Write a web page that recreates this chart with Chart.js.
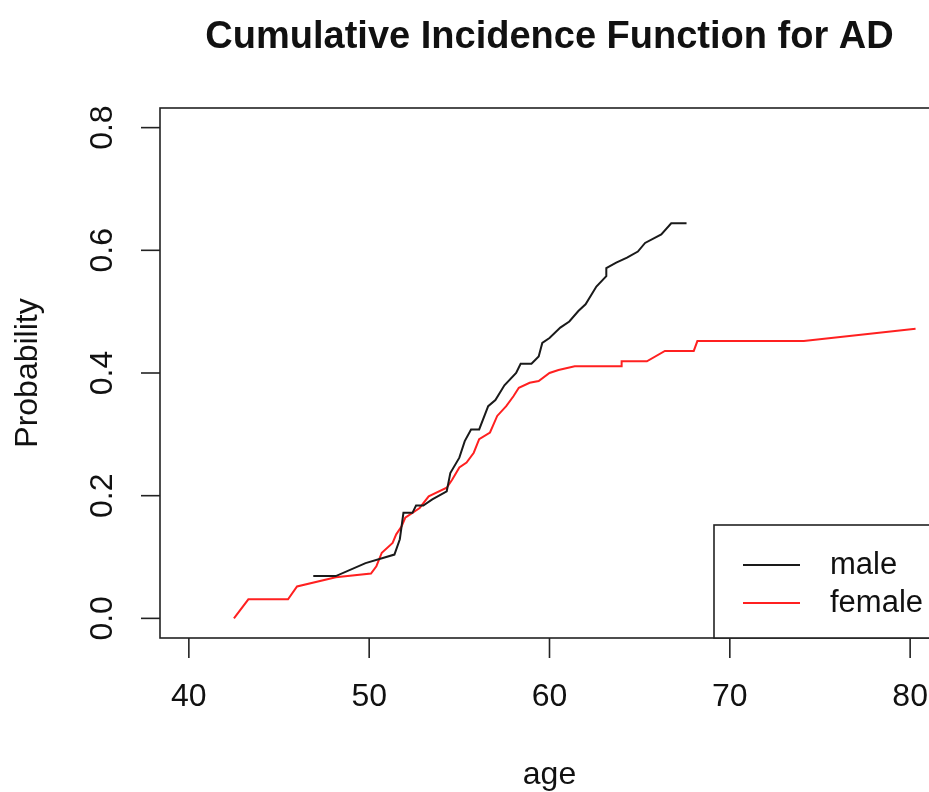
<!DOCTYPE html>
<html>
<head>
<meta charset="utf-8">
<title>Cumulative Incidence Function for AD</title>
<style>
  html, body { margin: 0; padding: 0; background: #fff; overflow: hidden; }
  #wrap { width: 940px; height: 792px; position: relative; }
</style>
</head>
<body>
<div id="wrap"><canvas id="cif"></canvas></div>
<script src="https://cdn.jsdelivr.net/npm/chart.js"></script>
<script>
    // values
    const maleAge = [46.9, 48.15, 49.8, 51.4, 51.7, 51.9, 52.4, 52.6, 53.0, 53.5, 54.3, 54.5, 55.0, 55.3, 55.65, 56.1,
        56.6, 57.0, 57.5, 58.15, 58.4, 59.0, 59.4, 59.6, 60.0, 60.6, 61.1, 61.6, 62.0, 62.6, 63.15, 63.15, 63.7,
        64.3, 64.9, 65.3, 66.2, 66.75, 67.6];
    const maleProb = [0.069, 0.069, 0.090, 0.104, 0.129, 0.172, 0.172, 0.184, 0.184, 0.194, 0.207, 0.237, 0.262, 0.289,
        0.308, 0.308, 0.346, 0.356, 0.380, 0.400, 0.415, 0.415, 0.427, 0.449, 0.457, 0.474, 0.484, 0.501, 0.512,
        0.541, 0.558, 0.571, 0.580, 0.588, 0.598, 0.612, 0.626, 0.644, 0.644];

    const femaleAge = [42.5, 43.3, 45.5, 46.0, 48.15, 50.1, 50.4, 50.7, 51.3, 51.5, 51.8, 52.0, 52.8, 53.3, 54.3, 54.6,
        55.0, 55.4, 55.8, 56.1, 56.7, 57.1, 57.6, 58.0, 58.3, 58.9, 59.4, 60.0, 60.5, 61.4, 64.0, 64.0, 65.4, 66.4,
        68.0, 68.2, 74.1, 80.3];
    const femaleProb = [0.0, 0.031, 0.031, 0.052, 0.067, 0.073, 0.085, 0.107, 0.123, 0.137, 0.150, 0.164, 0.180, 0.199,
        0.213, 0.226, 0.246, 0.254, 0.270, 0.292, 0.303, 0.330, 0.346, 0.362, 0.376, 0.384, 0.387, 0.400, 0.405,
        0.411, 0.411, 0.419, 0.419, 0.436, 0.436, 0.452, 0.452, 0.472];

    const xTicks = [40, 50, 60, 70, 80];
    const yTicks = [0.0, 0.2, 0.4, 0.6, 0.8];
    const seriesNames = ['male', 'female'];
    const seriesColors = ['#1a1a1a', '#ff2020'];

    const FONT = '"Liberation Sans", Arial, Helvetica, sans-serif';

    function toPoints(xs, ys) {
        return xs.map((x, i) => ({ x: x, y: ys[i] }));
    }

    // draws the R style box, axes, labels and legend
    const baseGraphics = {
        id: 'baseGraphics',
        afterDraw(chart) {
            const ctx = chart.ctx;
            const area = chart.chartArea;
            const xs = chart.scales.x;
            const ys = chart.scales.y;
            ctx.save();
            ctx.strokeStyle = '#222';
            ctx.fillStyle = '#111';
            ctx.lineWidth = 1.6;

            // plot box
            ctx.strokeRect(area.left, area.top, area.right - area.left, area.bottom - area.top);

            // x axis
            ctx.font = '32px ' + FONT;
            ctx.textAlign = 'center';
            ctx.textBaseline = 'middle';
            xTicks.forEach(v => {
                const px = xs.getPixelForValue(v);
                ctx.beginPath();
                ctx.moveTo(px, area.bottom);
                ctx.lineTo(px, area.bottom + 20);
                ctx.stroke();
                ctx.fillText(String(v), px, area.bottom + 59);
            });

            // y axis, labels turned like R's las = 0
            yTicks.forEach(v => {
                const py = ys.getPixelForValue(v);
                ctx.beginPath();
                ctx.moveTo(area.left, py);
                ctx.lineTo(area.left - 19, py);
                ctx.stroke();
                ctx.save();
                ctx.translate(area.left - 57, py);
                ctx.rotate(-Math.PI / 2);
                ctx.fillText(v.toFixed(1), 0, 0);
                ctx.restore();
            });

            // axis titles
            ctx.font = '32px ' + FONT;
            ctx.fillText('age', (area.left + area.right) / 2, area.bottom + 137);
            ctx.save();
            ctx.translate(28, (area.top + area.bottom) / 2);
            ctx.rotate(-Math.PI / 2);
            ctx.fillText('Probability', 0, 0);
            ctx.restore();

            // main title
            ctx.font = 'bold 38px ' + FONT;
            ctx.fillText('Cumulative Incidence Function for AD', (area.left + area.right) / 2, 38);

            // legend (bottomright)
            const lx = area.right - 225;
            const ly = area.bottom - 113;
            ctx.fillStyle = '#fff';
            ctx.fillRect(lx, ly, area.right - lx, area.bottom - ly);
            ctx.strokeRect(lx, ly, area.right - lx, area.bottom - ly);
            ctx.font = '31px ' + FONT;
            ctx.textAlign = 'left';
            seriesNames.forEach((name, i) => {
                const rowY = ly + 40 + i * 38;
                ctx.strokeStyle = seriesColors[i];
                ctx.lineWidth = 2;
                ctx.beginPath();
                ctx.moveTo(lx + 29, rowY);
                ctx.lineTo(lx + 86, rowY);
                ctx.stroke();
                ctx.fillStyle = '#111';
                ctx.fillText(name, lx + 116, rowY);
            });
            ctx.restore();
        }
    };

    const chart = new Chart(document.getElementById('cif'), {
        type: 'scatter',
        data: {
            datasets: [{
                label: seriesNames[0],
                data: toPoints(maleAge, maleProb),
                showLine: true,
                borderColor: seriesColors[0],
                borderWidth: 2,
                pointRadius: 0,
                tension: 0
            }, {
                label: seriesNames[1],
                data: toPoints(femaleAge, femaleProb),
                showLine: true,
                borderColor: seriesColors[1],
                borderWidth: 2,
                pointRadius: 0,
                tension: 0
            }]
        },
        options: {
            responsive: true,
            maintainAspectRatio: false,
            animation: false,
            layout: { padding: { left: 160, top: 108, right: 1, bottom: 154 } },
            plugins: { legend: { display: false }, tooltip: { enabled: false }, title: { display: false } },
            scales: {
                x: { type: 'linear', min: 38.4, max: 81.6, display: false },
                y: { type: 'linear', min: -0.032, max: 0.832, display: false }
            }
        },
        plugins: [baseGraphics]
    });
</script>
</body>
</html>
